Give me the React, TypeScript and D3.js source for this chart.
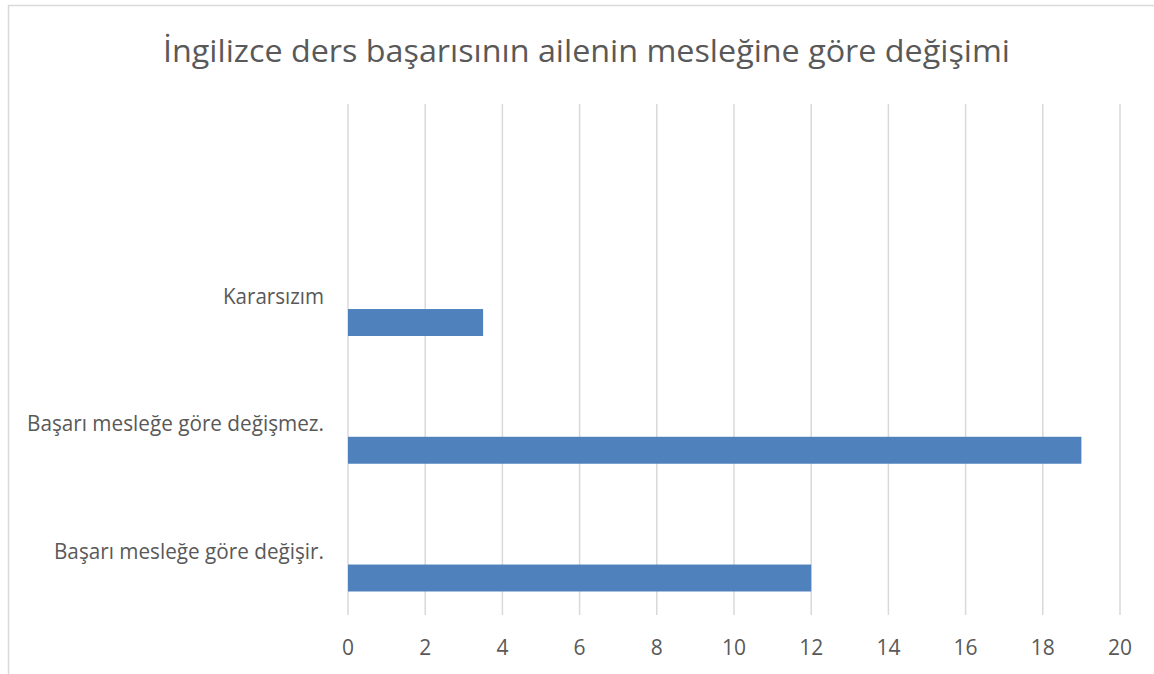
import React from "react";
import * as d3 from "d3";

const title = "İngilizce ders başarısının ailenin mesleğine göre değişimi";
// bottom to top
const categories = ["Başarı mesleğe göre değişir.", "Başarı mesleğe göre değişmez.", "Kararsızım", ""];
const values: (number | null)[] = [12, 19, 3.5, null];
const xTicks = [0, 2, 4, 6, 8, 10, 12, 14, 16, 18, 20];

const W = 1154;
const H = 674;
const plot = { left: 348, right: 1120, top: 104, bottom: 615 };
const FONT = "'Open Sans', 'Noto Sans', sans-serif";
const TEXT = "#595959";
const GRID = "#d9d9d9";
const BAR = "#4f81bd";

const labelWidths: Record<string, number> = {
  "Başarı mesleğe göre değişir.": 270,
  "Başarı mesleğe göre değişmez.": 297,
  "Kararsızım": 101,
};

export default function App() {
  const x = d3.scaleLinear().domain([0, 20]).range([plot.left, plot.right]);
  const y = d3
    .scaleBand<string>()
    .domain([...categories].reverse())
    .range([plot.top, plot.bottom])
    .paddingInner(0)
    .paddingOuter(0);
  const bw = y.bandwidth();

  return (
    <svg
      width={W}
      height={H}
      style={{ position: "absolute", left: 0, top: 0, background: "#fff" }}
      fontFamily={FONT}
    >
      <rect x={8.5} y={5.5} width={W + 20} height={H + 20} fill="#fff" stroke={GRID} strokeWidth={1.5} />
      <text
        x={586.5}
        y={50}
        textAnchor="middle"
        dominantBaseline="central"
        fontSize={31}
        fill={TEXT}
        textLength={847}
        lengthAdjust="spacingAndGlyphs"
      >
        {title}
      </text>
      {xTicks.map((t) => (
        <line key={"g" + t} x1={x(t)} x2={x(t)} y1={plot.top} y2={plot.bottom} stroke={GRID} strokeWidth={1.5} />
      ))}
      {xTicks.map((t) => (
        <text key={"t" + t} x={x(t)} y={647} textAnchor="middle" dominantBaseline="central" fontSize={21} fill={TEXT}>
          {t}
        </text>
      ))}
      {categories.map((c, i) => {
        const v = values[i];
        const b = y(c)!;
        return (
          <g key={"c" + i}>
            {c && (
              <text
                x={324}
                y={b + bw / 2}
                textAnchor="end"
                dominantBaseline="central"
                fontSize={21}
                fill={TEXT}
                textLength={labelWidths[c]}
                lengthAdjust="spacingAndGlyphs"
              >
                {c}
              </text>
            )}
            {v != null && (
              <rect x={x(0)} y={b + bw * 0.605} width={x(v) - x(0)} height={bw * 0.211} fill={BAR} />
            )}
          </g>
        );
      })}
    </svg>
  );
}
